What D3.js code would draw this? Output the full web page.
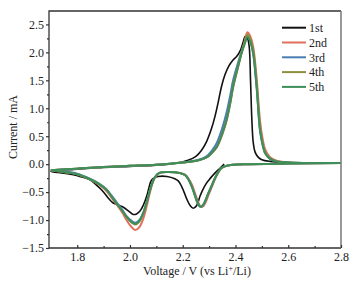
<!DOCTYPE html>
<html lang="en">
<head>
  <meta charset="UTF-8">
  <title>CV curves</title>
  <style>
    body { margin: 0; background: #fff; }
    svg text { font-family: 'Liberation Serif', 'Times New Roman', serif; fill: #222; }
    .tick text { font-size: 12px; }
    .axis-title { font-size: 12px; }
    .legend text { font-size: 12px; }
  </style>
</head>
<body>
  <svg width="358" height="290"></svg>
  <script src="https://cdn.jsdelivr.net/npm/d3@7/dist/d3.min.js"></script>
  <script>
    // 1st cycle: starts near OCV, sweeps down to 1.7 V then back up to 2.8 V
    var v1st = [2.357, 2.34, 2.322, 2.305, 2.29, 2.275, 2.265, 2.253, 2.24, 2.228, 2.215, 2.205, 2.196, 2.183, 2.17, 2.14, 2.107, 2.09, 2.08, 2.072, 2.063, 2.05, 2.038, 2.025, 2.012, 1.995, 1.975, 1.955, 1.935, 1.92, 1.905, 1.89, 1.87, 1.848, 1.81, 1.785, 1.75, 1.7,
      1.8, 1.9, 2.0, 2.1, 2.18, 2.22, 2.25, 2.27, 2.29, 2.31, 2.322, 2.335, 2.347, 2.36, 2.375, 2.39, 2.405, 2.42, 2.43, 2.437, 2.445, 2.452, 2.457, 2.462, 2.467, 2.474, 2.485, 2.5, 2.53, 2.6, 2.7, 2.8]
    var i1st = [0.0, -0.08, -0.16, -0.25, -0.34, -0.47, -0.58, -0.74, -0.79, -0.74, -0.62, -0.5, -0.4, -0.3, -0.26, -0.22, -0.22, -0.25, -0.3, -0.42, -0.58, -0.74, -0.84, -0.89, -0.9, -0.84, -0.77, -0.73, -0.69, -0.62, -0.53, -0.45, -0.36, -0.28, -0.22, -0.19, -0.16, -0.13,
      -0.09, -0.06, -0.04, -0.02, 0.02, 0.07, 0.14, 0.24, 0.4, 0.65, 0.85, 1.12, 1.39, 1.6, 1.76, 1.86, 1.93, 2.05, 2.2, 2.29, 2.26, 2.1, 1.5, 0.8, 0.4, 0.22, 0.13, 0.08, 0.05, 0.03, 0.02, 0.02]

    // later cycles: cathodic sweep 2.8 -> 1.7, anodic sweep 1.7 -> 2.8
    var vCathodic = [2.8, 2.6, 2.45, 2.39, 2.365, 2.347, 2.335, 2.322, 2.31, 2.297, 2.285, 2.275, 2.266, 2.257, 2.245, 2.234, 2.222, 2.21, 2.19, 2.14, 2.11, 2.095, 2.085, 2.076, 2.065, 2.05, 2.035, 2.02, 2.005, 1.987, 1.97, 1.949, 1.93, 1.911, 1.88, 1.848, 1.8, 1.75, 1.7]
    var vAnodic = [1.7, 1.8, 1.9, 2.0, 2.1, 2.2, 2.26, 2.29, 2.31, 2.329, 2.35, 2.366, 2.38, 2.391, 2.41, 2.423, 2.435, 2.445, 2.455, 2.467, 2.48, 2.493, 2.503, 2.512, 2.53, 2.556, 2.6, 2.7, 2.8]

    var i2ndC = [0.02, 0.01, 0.0, -0.01, -0.03, -0.07, -0.15, -0.27, -0.41, -0.56, -0.7, -0.76, -0.75, -0.66, -0.5, -0.36, -0.26, -0.19, -0.16, -0.14, -0.16, -0.24, -0.35, -0.5, -0.72, -0.98, -1.13, -1.18, -1.12, -1.0, -0.86, -0.72, -0.6, -0.48, -0.36, -0.27, -0.18, -0.14, -0.11]
    var i2ndA = [-0.11, -0.08, -0.05, -0.03, -0.01, 0.03, 0.07, 0.12, 0.2, 0.3, 0.53, 0.77, 1.08, 1.37, 1.74, 1.99, 2.2, 2.36, 2.3, 2.1, 1.55, 0.78, 0.45, 0.27, 0.13, 0.06, 0.03, 0.02, 0.02]
    var i3rdC = [0.02, 0.01, 0.0, -0.01, -0.03, -0.07, -0.14, -0.26, -0.39, -0.53, -0.67, -0.75, -0.76, -0.69, -0.53, -0.39, -0.27, -0.2, -0.16, -0.14, -0.16, -0.23, -0.33, -0.46, -0.65, -0.87, -1.0, -1.05, -1.01, -0.93, -0.81, -0.68, -0.56, -0.45, -0.34, -0.26, -0.17, -0.13, -0.11]
    var i3rdA = [-0.11, -0.08, -0.05, -0.03, -0.01, 0.03, 0.08, 0.14, 0.24, 0.38, 0.65, 0.92, 1.23, 1.5, 1.82, 2.02, 2.17, 2.3, 2.22, 1.98, 1.38, 0.6, 0.34, 0.2, 0.1, 0.05, 0.03, 0.02, 0.02]
    var i4thC = [0.02, 0.01, 0.0, -0.01, -0.03, -0.07, -0.14, -0.25, -0.38, -0.52, -0.66, -0.74, -0.76, -0.7, -0.54, -0.39, -0.28, -0.2, -0.16, -0.14, -0.16, -0.23, -0.33, -0.46, -0.66, -0.89, -1.03, -1.08, -1.04, -0.95, -0.83, -0.7, -0.58, -0.46, -0.35, -0.27, -0.18, -0.14, -0.11]
    var i4thA = [-0.11, -0.08, -0.05, -0.03, -0.01, 0.03, 0.07, 0.12, 0.2, 0.31, 0.55, 0.8, 1.1, 1.4, 1.76, 2.0, 2.18, 2.32, 2.26, 2.04, 1.45, 0.66, 0.38, 0.22, 0.11, 0.05, 0.03, 0.02, 0.02]
    var i5thC = [0.02, 0.01, 0.0, -0.01, -0.03, -0.07, -0.14, -0.25, -0.38, -0.52, -0.66, -0.74, -0.76, -0.7, -0.55, -0.4, -0.28, -0.2, -0.16, -0.14, -0.16, -0.23, -0.33, -0.46, -0.65, -0.88, -1.02, -1.07, -1.03, -0.94, -0.83, -0.7, -0.58, -0.46, -0.35, -0.27, -0.18, -0.14, -0.11]
    var i5thA = [-0.11, -0.08, -0.05, -0.03, -0.01, 0.03, 0.07, 0.12, 0.2, 0.31, 0.55, 0.79, 1.1, 1.39, 1.75, 1.98, 2.15, 2.27, 2.2, 1.98, 1.39, 0.61, 0.35, 0.2, 0.1, 0.05, 0.03, 0.02, 0.02]

    var cycleNames = ['1st', '2nd', '3rd', '4th', '5th']
    var colors = ['#111111', '#e0705c', '#4a7db4', '#8f903e', '#3d8f5a']
    var xTicks = [1.8, 2.0, 2.2, 2.4, 2.6, 2.8]
    var yTicks = [-1.5, -1.0, -0.5, 0.0, 0.5, 1.0, 1.5, 2.0, 2.5]

    function zip(v, i) {
      return v.map(function(d, k) { return [d, i[k]] })
    }
    var series = [
      zip(v1st, i1st),
      zip(vCathodic, i2ndC).concat(zip(vAnodic, i2ndA)),
      zip(vCathodic, i3rdC).concat(zip(vAnodic, i3rdA)),
      zip(vCathodic, i4thC).concat(zip(vAnodic, i4thA)),
      zip(vCathodic, i5thC).concat(zip(vAnodic, i5thA))
    ]

    var svg = d3.select('svg')
    var pL = 49, pR = 341, pT = 11, pB = 248

    var x = d3.scaleLinear().domain([1.693, 2.8]).range([pL, pR])
    var y = d3.scaleLinear().domain([-1.5, 2.74]).range([pB, pT])

    var line = d3.line()
      .x(function(d) { return x(d[0]) })
      .y(function(d) { return y(d[1]) })
      .curve(d3.curveCatmullRom.alpha(0.5))

    svg.append('defs').append('clipPath').attr('id', 'clip')
      .append('rect').attr('x', pL).attr('y', pT).attr('width', pR - pL).attr('height', pB - pT)

    svg.append('g').attr('clip-path', 'url(#clip)')
      .selectAll('path')
      .data(series)
      .enter()
      .append('path')
      .attr('d', line)
      .attr('fill', 'none')
      .attr('stroke', function(d, i) { return colors[i] })
      .attr('stroke-width', function(d, i) { return i === 0 ? 1.6 : 2 })

    // frame: right side is drawn lighter in the original
    svg.append('path')
      .attr('d', 'M' + pR + ',' + pT + 'H' + pL + 'V' + pB + 'H' + pR)
      .attr('fill', 'none').attr('stroke', '#333').attr('stroke-width', 1.3)
    svg.append('line')
      .attr('x1', pR).attr('x2', pR).attr('y1', pT).attr('y2', pB)
      .attr('stroke', '#777').attr('stroke-width', 1.5)

    // bottom axis, ticks pointing inward
    var xAxis = svg.append('g')
      .attr('transform', 'translate(0,' + pB + ')')
      .call(d3.axisBottom(x).tickValues(xTicks).tickFormat(d3.format('.1f')).tickSize(-3).tickPadding(4))
    xAxis.select('.domain').remove()
    svg.append('g')
      .attr('transform', 'translate(0,' + pB + ')')
      .call(d3.axisBottom(x).tickValues([1.9, 2.1, 2.3, 2.5, 2.7]).tickFormat('').tickSize(-2))
      .select('.domain').remove()

    // left axis, ticks pointing outward
    var yAxis = svg.append('g')
      .attr('transform', 'translate(' + pL + ',0)')
      .call(d3.axisLeft(y).tickValues(yTicks).tickFormat(d3.format('.1f')).tickSize(3).tickPadding(2))
    yAxis.select('.domain').remove()
    svg.append('g')
      .attr('transform', 'translate(' + pL + ',0)')
      .call(d3.axisLeft(y).tickValues([-1.25, -0.75, -0.25, 0.25, 0.75, 1.25, 1.75, 2.25]).tickFormat('').tickSize(2))
      .select('.domain').remove()

    svg.selectAll('.tick line').attr('stroke', '#333').attr('stroke-width', 1.2)
    svg.selectAll('.tick text').attr('fill', '#222')

    svg.append('text')
      .attr('class', 'axis-title')
      .attr('x', 197)
      .attr('y', 275)
      .attr('text-anchor', 'middle')
      .html('Voltage / V (vs Li<tspan dy="-4" font-size="8">+</tspan><tspan dy="4">/Li)</tspan>')

    svg.append('text')
      .attr('class', 'axis-title')
      .attr('transform', 'translate(17,' + 127 + ') rotate(-90)')
      .attr('text-anchor', 'middle')
      .text('Current / mA')

    // legend
    var legend = svg.append('g').attr('class', 'legend')
      .selectAll('g')
      .data(cycleNames)
      .enter()
      .append('g')
      .attr('transform', function(d, i) { return 'translate(282,' + (27.7 + i * 14.8) + ')' })
    legend.append('line')
      .attr('x1', 0).attr('x2', 24)
      .attr('stroke', function(d, i) { return colors[i] })
      .attr('stroke-width', 2)
    legend.append('text')
      .attr('x', 27)
      .attr('dy', '0.35em')
      .text(function(d) { return d })
  </script>
</body>
</html>
